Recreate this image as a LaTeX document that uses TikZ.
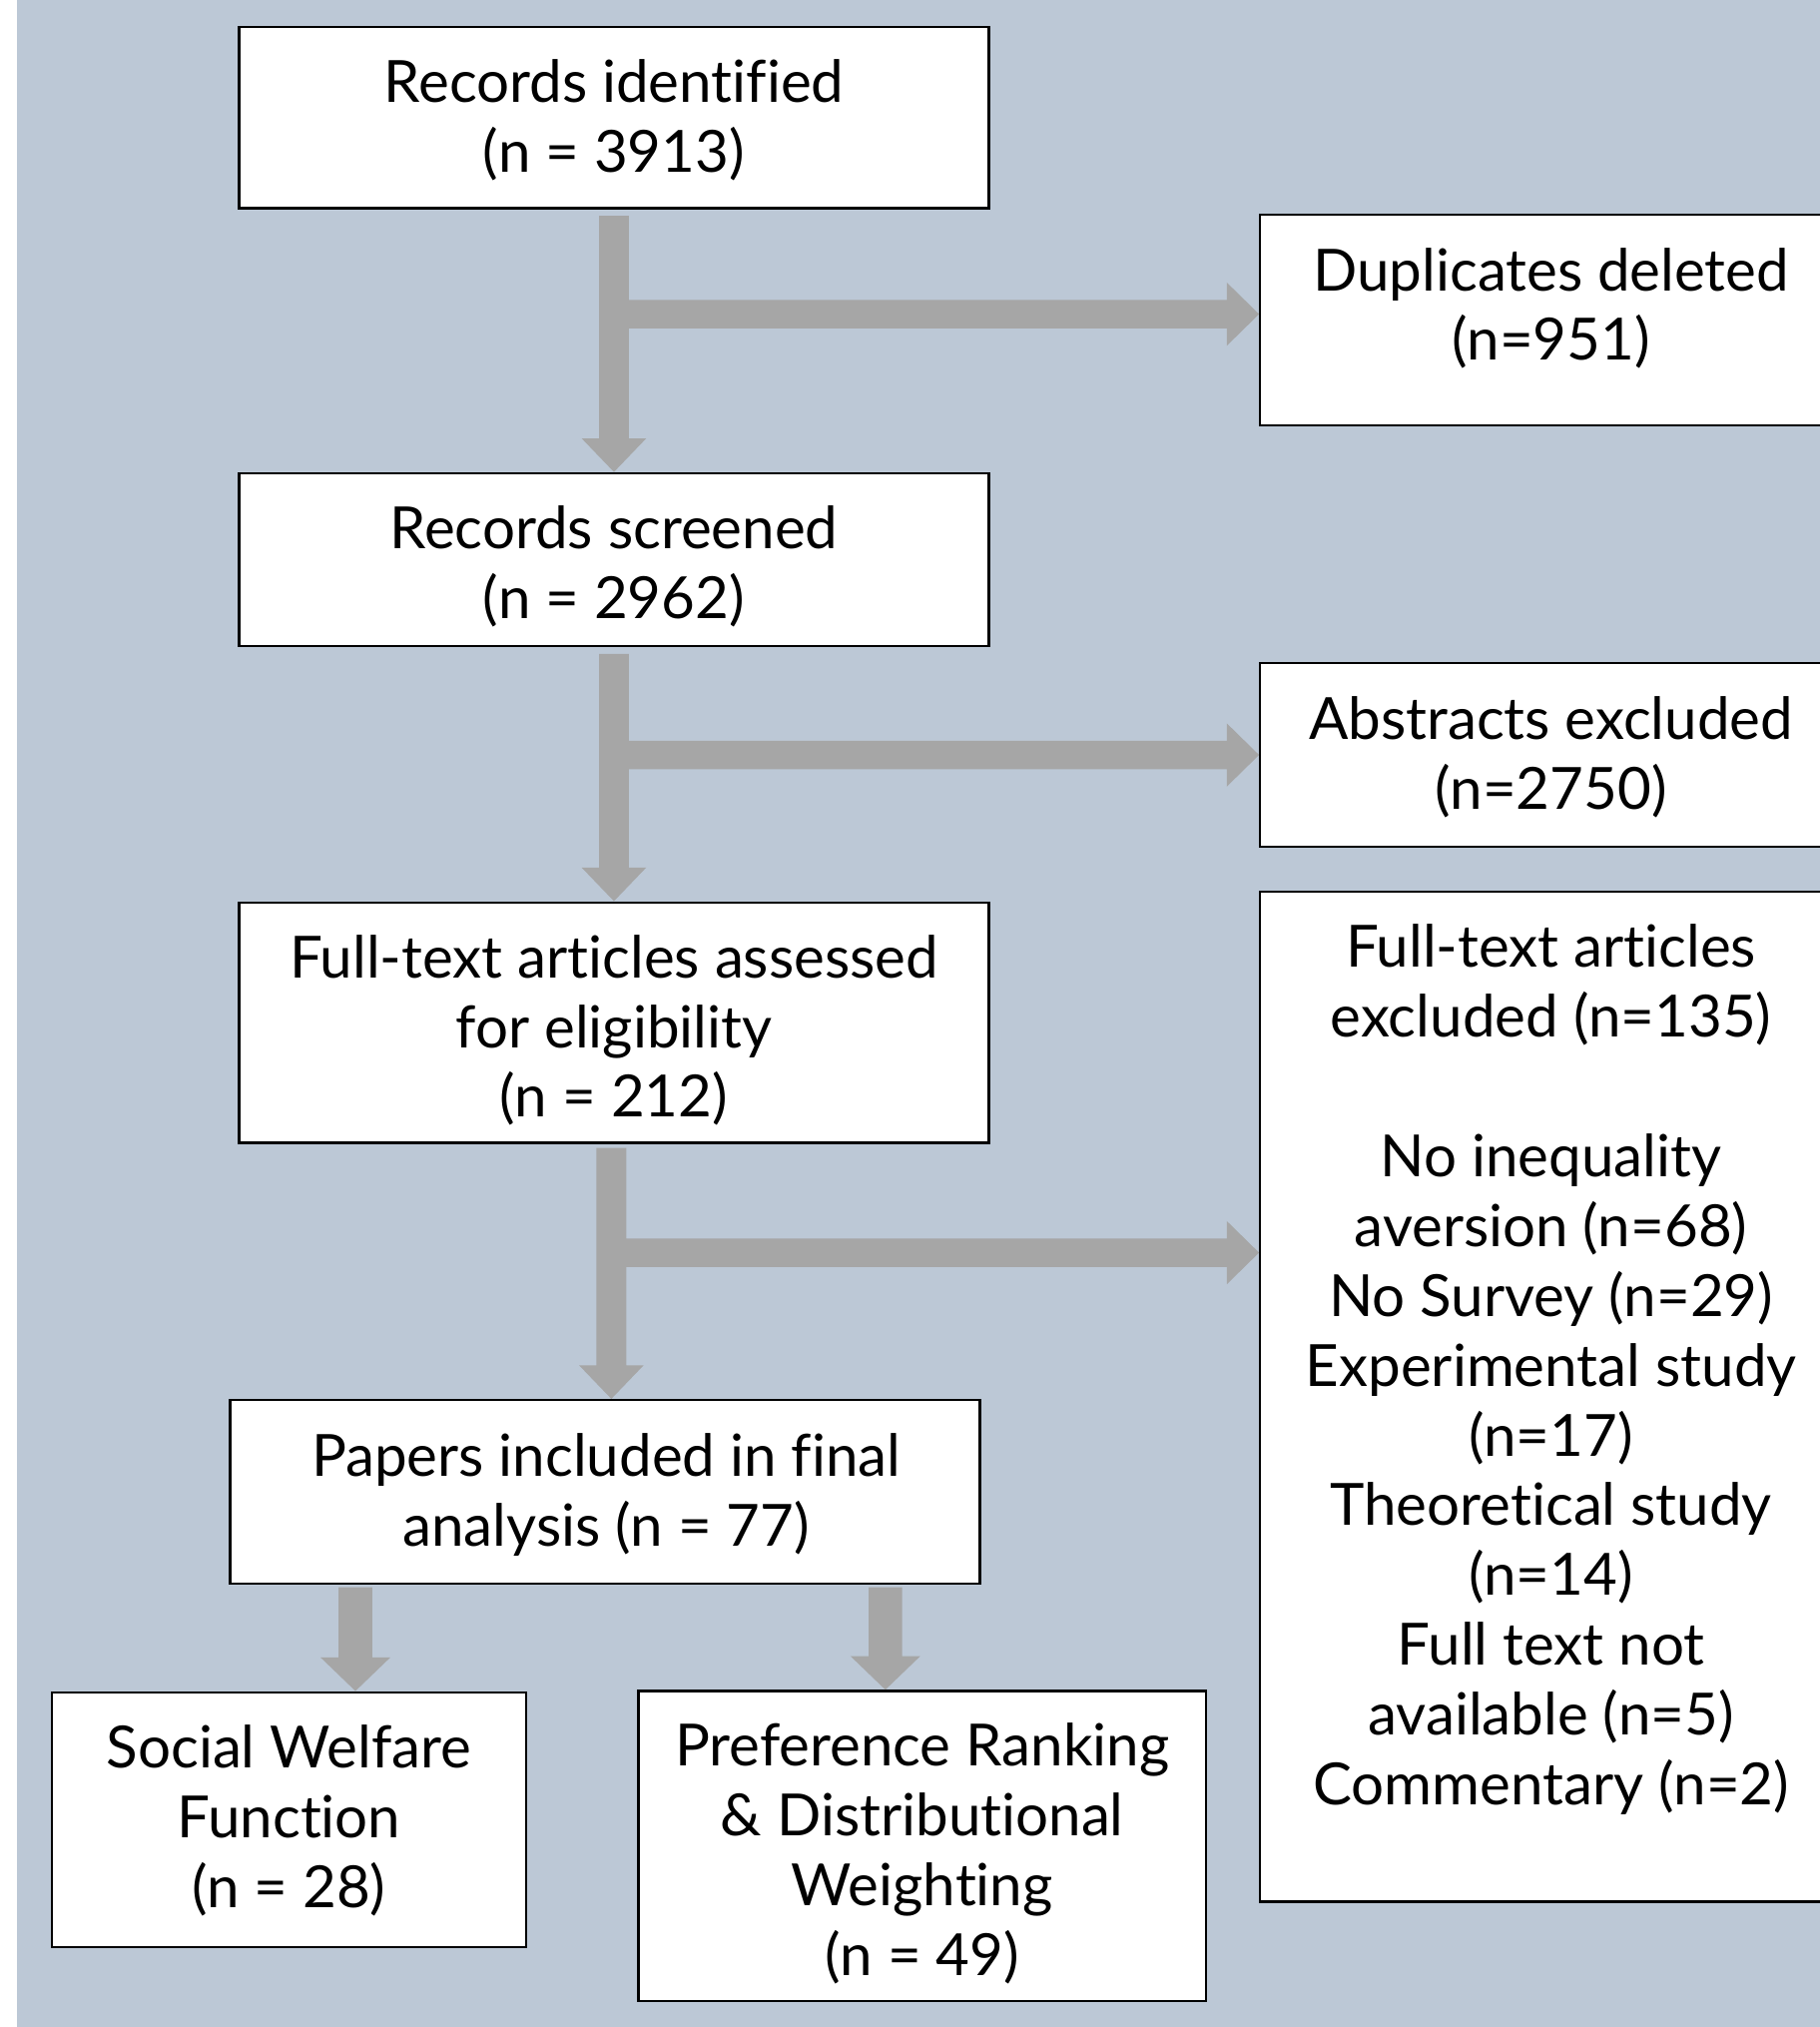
\documentclass[tikz,border=0pt]{standalone}
\usepackage{fontspec}
\setmainfont[Ligatures={NoCommon}]{Lato}
\usetikzlibrary{calc}
\definecolor{bgblue}{RGB}{188,200,214}
\definecolor{flowgray}{RGB}{166,166,166}
% #1 start, #2 tip, #3 half shaft, #4 half head, #5 head length
\newcommand{\flowdown}[5]{%
  \fill[flowgray] let \p1=(#1), \p2=(#2) in
   (\x2-#3,\y1) -- (\x2-#3,\y2+#5) -- (\x2-#4,\y2+#5) -- (\x2,\y2) --
   (\x2+#4,\y2+#5) -- (\x2+#3,\y2+#5) -- (\x2+#3,\y1) -- cycle;}
\newcommand{\flowright}[5]{%
  \fill[flowgray] let \p1=(#1), \p2=(#2) in
   (\x1,\y2+#3) -- (\x2-#5,\y2+#3) -- (\x2-#5,\y2+#4) -- (\x2,\y2) --
   (\x2-#5,\y2-#4) -- (\x2-#5,\y2-#3) -- (\x1,\y2-#3) -- cycle;}
\begin{document}
\begin{tikzpicture}[x=1pt,y=-1pt,
  stagebox/.style={draw=black, line width=1.8pt, fill=white, inner sep=0pt},
  txt/.style={align=center, font=\fontsize{45}{54}\selectfont, inner sep=0pt}]
\useasboundingbox (0,0) rectangle (1408,1568);
\clip (0,0) rectangle (1408,1568);
\fill[white] (0,0) rectangle (1408,1568);
\fill[bgblue] (13,0) rectangle (1408,1568);

\node[stagebox, minimum width=580pt, minimum height=140pt] (b1) at (475,91) {};
\node[stagebox, minimum width=450pt, minimum height=163pt] (b2) at (1200,247.5) {};
\node[stagebox, minimum width=580pt, minimum height=134pt] (b3) at (475,433) {};
\node[stagebox, minimum width=450pt, minimum height=142pt] (b4) at (1200,584) {};
\node[stagebox, minimum width=580pt, minimum height=186pt] (b5) at (475,791) {};
\node[stagebox, minimum width=450pt, minimum height=781pt] (b6) at (1200,1080.5) {};
\node[stagebox, minimum width=580pt, minimum height=142pt] (b7) at (468,1154) {};
\node[stagebox, minimum width=367pt, minimum height=197pt] (b8) at (223.5,1407.5) {};
\node[stagebox, minimum width=439pt, minimum height=240pt] (b9) at (713.5,1428) {};

\node[txt] (t1) at ($(b1)+(0,2)$) {Records identified\\(n = 3913)};
\node[txt] (t2) at ($(b2)+(0,-9)$) {Duplicates deleted\\(n=951)};
\node[txt] (t3) at ($(b3)+(0,5)$) {Records screened\\(n = 2962)};
\node[txt] (t4) at ($(b4)+(0,2)$) {Abstracts excluded\\(n=2750)};
\node[txt] (t5) at ($(b5)+(0,6)$) {Full-text articles assessed\\for eligibility\\(n = 212)};
\node[txt] (t6) at ($(b6)+(0,-21)$) {Full-text articles\\excluded (n=135)\\[54pt]No inequality\\aversion (n=68)\\No Survey (n=29)\\Experimental study\\(n=17)\\Theoretical study\\(n=14)\\Full text not\\available (n=5)\\Commentary (n=2)};
\node[txt] (t7) at ($(b7)+(1,2)$) {Papers included in final\\analysis (n = 77)};
\node[txt] (t8) at ($(b8)+(0,1)$) {Social Welfare\\Function\\(n = 28)};
\node[txt] (t9) at ($(b9)+(0,6)$) {Preference Ranking\\\& Distributional\\Weighting\\(n = 49)};

\coordinate (h1) at (475,243);
\coordinate (h2) at (475,584);
\coordinate (h3) at (473,969);

\flowdown{$(b1.south)+(0,5)$}{b3.north}{11.5pt}{25pt}{26pt}
\flowright{h1}{h1 -| b2.west}{11pt}{24.5pt}{25pt}
\flowdown{$(b3.south)+(0,5)$}{b5.north}{11.5pt}{25pt}{26pt}
\flowright{h2}{h2 -| b4.west}{11pt}{24.5pt}{25pt}
\flowdown{$(b5.south)+(0,3)$}{$(b7.north)+(5,0)$}{11.5pt}{25pt}{26pt}
\flowright{h3}{h3 -| b6.west}{11pt}{24.5pt}{25pt}
\flowdown{$(b7.south)+(0,2)$}{$(b8.north)+(51.5,0)$}{13pt}{27pt}{26pt}
\flowdown{$(b7.south)+(0,2)$}{$(b9.north)+(-28.5,0)$}{13pt}{27pt}{26pt}
\end{tikzpicture}
\end{document}
